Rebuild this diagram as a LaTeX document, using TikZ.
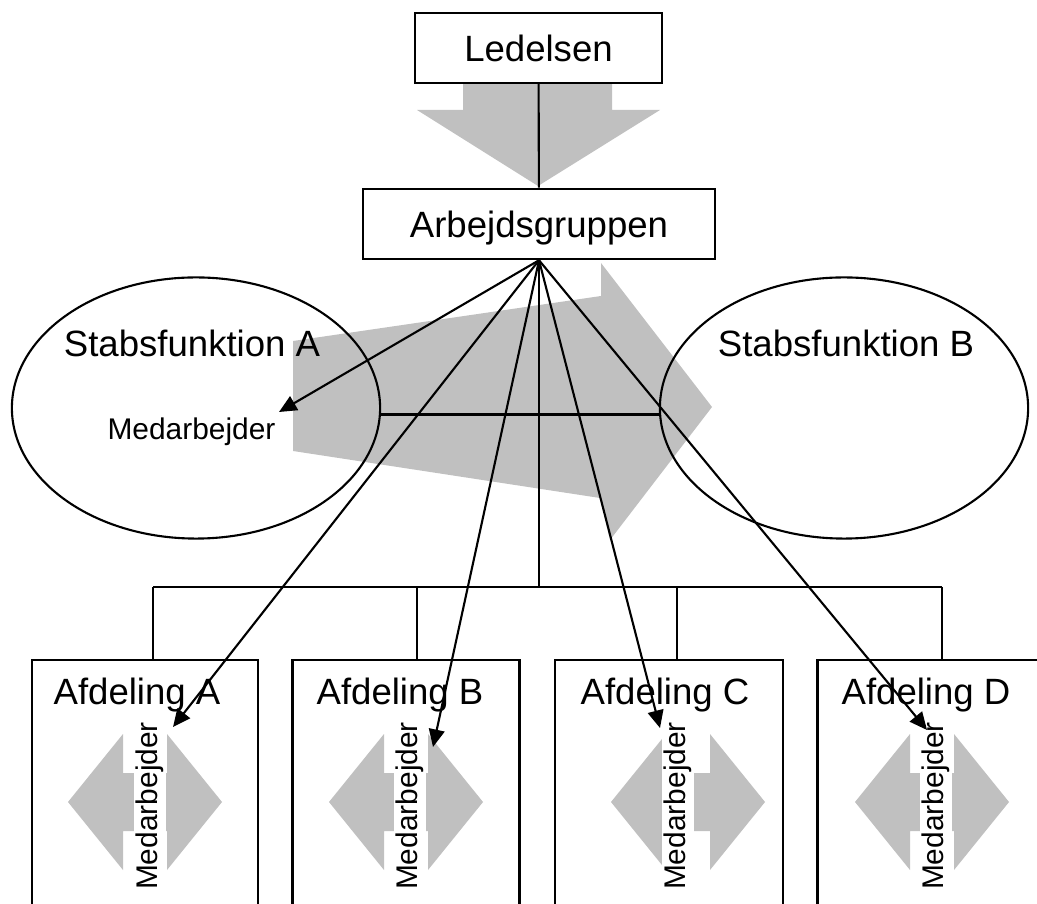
\documentclass[tikz,border=0pt]{standalone}
\usepackage{fontspec}
\setmainfont{Liberation Sans}
\usetikzlibrary{shapes.geometric, arrows.meta}
\definecolor{arrowgray}{RGB}{192,192,192}

\begin{document}
\begin{tikzpicture}[x=0.01cm,y=-0.01cm]
						\tikzstyle{box} = [rectangle,draw=black,line width=0.7pt,fill=white,inner sep=0pt,text depth=0pt,font=\fontsize{10.4}{12}\selectfont]
						\tikzstyle{oval} = [ellipse,draw=black,line width=0.6pt,inner sep=0pt]
						\tikzstyle{title} = [inner sep=0pt,anchor=base,font=\fontsize{10.4}{12}\selectfont]
						\tikzstyle{worker} = [inner sep=0pt,font=\fontsize{8.5}{10}\selectfont]
						\tikzstyle{edge} = [-,line width=0.6pt]
						\tikzstyle{pointer} = [-{Triangle[length=5pt,width=4.5pt]},line width=0.6pt]
						\useasboundingbox (0,0) rectangle (1037,904);
						% grey flow arrows
						\fill[arrowgray] (463,83) -- (612,83) -- (612,110) -- (660,110) -- (538,186) -- (417,110) -- (463,110) -- cycle;
						\fill[arrowgray] (293,341) -- (601,296) -- (601,263) -- (712,407) -- (610,540) -- (600,498) -- (293,451) -- cycle;
						\node[box,minimum width=2.47cm,minimum height=0.70cm] (n1) at (538.5,48) {Ledelsen};
						\node[box,minimum width=3.52cm,minimum height=0.70cm] (n2) at (539,224) {Arbejdsgruppen};
						\node[oval,minimum width=3.68cm,minimum height=2.61cm] (stabA) at (196,408) {};
						\node[oval,minimum width=3.68cm,minimum height=2.61cm] (stabB) at (844,408) {};
						\node[title] (labStabA) at (192,357) {Stabsfunktion A};
						\node[title] (labStabB) at (846,357) {Stabsfunktion B};
						\node[worker,anchor=base] (workS) at (191.5,440) {Medarbejder};
						\node[box,minimum width=2.26cm,minimum height=3cm,anchor=north] (afdA) at (145,659) {};
						\node[box,minimum width=2.27cm,minimum height=3cm,anchor=north] (afdB) at (406,659) {};
						\node[box,minimum width=2.28cm,minimum height=3cm,anchor=north] (afdC) at (669,659) {};
						\node[box,minimum width=2.27cm,minimum height=3cm,anchor=north] (afdD) at (931,659) {};
						\node[title] (labA) at (137,705) {Afdeling A};
						\node[title] (labB) at (400,705) {Afdeling B};
						\node[title] (labC) at (665,705) {Afdeling C};
						\node[title] (labD) at (926,705) {Afdeling D};
						% double arrows behind the staff labels
						\foreach \cx in {145,406,688,932}
						\fill[arrowgray] ({\cx-77},802) -- ({\cx-22},734) -- ({\cx-22},773) -- ({\cx+22},773) -- ({\cx+22},734) -- ({\cx+77},802) -- ({\cx+22},870) -- ({\cx+22},831) -- ({\cx-22},831) -- ({\cx-22},870) -- cycle;
						\node[worker,fill=white,rotate=90,inner ysep=0.5pt] (workA) at (150,806) {Medarbejder};
						\node[worker,fill=white,rotate=90,inner ysep=0.5pt] (workB) at (410,806) {Medarbejder};
						\node[worker,fill=white,rotate=90,inner ysep=0.5pt] (workC) at (678,806) {Medarbejder};
						\node[worker,fill=white,rotate=90,inner ysep=0.5pt] (workD) at (936,806) {Medarbejder};
						\coordinate (bus) at (539,587);
						\coordinate (busA) at (153,587);
						\coordinate (busB) at (417,587);
						\coordinate (busC) at (677,587);
						\coordinate (busD) at (942,587);
						\coordinate (tipS) at (279,412);
						\coordinate (tipA) at (173,727);
						\coordinate (tipB) at (433,747);
						\coordinate (tipC) at (660,728);
						\coordinate (tipD) at (927,730);
						\draw[edge] (n1)--(n2);
						\draw[edge] (n2.south)--(bus);
						\draw[edge] (busA)--(busD);
						\draw[edge] (busA)--(afdA.north -| busA);
						\draw[edge] (busB)--(afdB.north -| busB);
						\draw[edge] (busC)--(afdC.north -| busC);
						\draw[edge] (busD)--(afdD.north -| busD);
						\draw[edge] (stabA.-2.5)--(stabB.182.5);
						\draw[pointer] (n2.south)--(tipS);
						\draw[pointer] (n2.south)--(tipA);
						\draw[pointer] (n2.south)--(tipB);
						\draw[pointer] (n2.south)--(tipC);
						\draw[pointer] (n2.south)--(tipD);
						\end{tikzpicture}
\end{document}
